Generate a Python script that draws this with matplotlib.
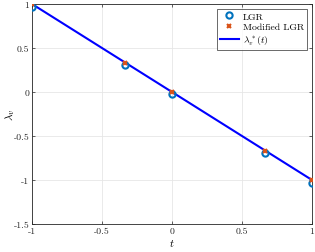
import matplotlib
matplotlib.use("Agg")
import matplotlib.pyplot as plt
import numpy as np

plt.rcParams['mathtext.fontset'] = 'cm'
plt.rcParams['font.family'] = 'serif'
plt.rcParams['font.serif'] = ['cmr10', 'DejaVu Serif']
plt.rcParams['axes.unicode_minus'] = False

t_nodes = [-1.0, -1/3, 0.0, 2/3, 1.0]
lgr_vals = [0.97, 0.31, -0.02, -0.69, -1.03]
mod_vals = [1.0, 0.33, 0.0, -0.67, -1.0]
t_line = [-1.0, 1.0]
lam_line = [1.0, -1.0]

fig = plt.figure(figsize=(3.15, 2.53), dpi=100)
ax = fig.add_axes([32/315, 1-225/253, 280/315, 220/253])

ax.plot(t_nodes, lgr_vals, 'o', mfc='none', mec='#0072BD', mew=1.5, ms=4.5, label='LGR', zorder=3)
ax.plot(t_nodes, mod_vals, 'x', color='#D95319', mew=1.5, ms=3.5, label='Modified LGR', zorder=4)
ax.plot(t_line, lam_line, '-', color='#0000FF', lw=1.5, label=r'$\lambda_v^*(t)$', zorder=2)

ax.set_xlim(-1, 1)
ax.set_ylim(-1.5, 1)
ax.set_xticks([-1, -0.5, 0, 0.5, 1])
ax.set_xticklabels(['-1', '-0.5', '0', '0.5', '1'])
ax.set_yticks([-1.5, -1, -0.5, 0, 0.5, 1])
ax.set_yticklabels(['-1.5', '-1', '-0.5', '0', '0.5', '1'])
ax.grid(True, color='#e6e6e6', lw=0.6)
ax.set_axisbelow(True)
for s in ax.spines.values():
    s.set_color('#262626')
    s.set_linewidth(0.6)
ax.tick_params(labelsize=7, length=2.5, width=0.5, direction='in', top=True, right=True, colors='#262626', pad=2)
ax.set_xlabel(r'$t$', fontsize=8, labelpad=1)
ax.set_ylabel(r'$\lambda_v$', fontsize=8)
ax.yaxis.set_label_coords(-0.055, 0.5)

leg = ax.legend(loc='upper right', fontsize=7, frameon=True, fancybox=False, edgecolor='#262626',
                borderpad=0.3, handlelength=2.0, handletextpad=0.4, labelspacing=0.2,
                prop={'family': 'serif', 'size': 7})
leg.get_frame().set_linewidth(0.6)

fig.savefig('out.png', dpi=100)
